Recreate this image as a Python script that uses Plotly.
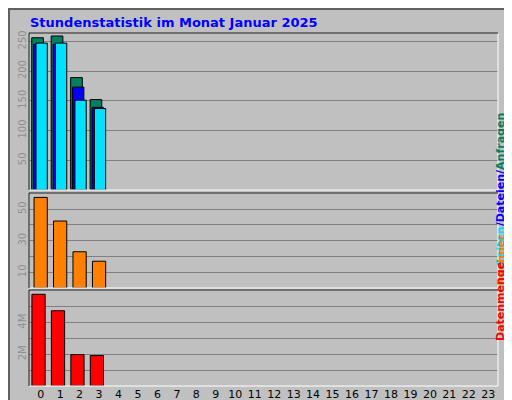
import plotly.graph_objects as go

hours = list(range(24))
anfragen = [256, 259, 189, 152]
dateien = [245, 245, 173, 139]
seiten = [247, 247, 151, 137]
rechner = [57.5, 42.5, 23, 17]
datenmenge = [5.79e6, 4.75e6, 1.98e6, 1.92e6]
x4 = hours[:4]

W, H = 512, 400
L, R, T, B = 21, 22, 25, 22
PW, PH = W - L - R, H - T - B
def px(x): return (x - L) / PW
def py(y): return (H - B - y) / PH

fig = go.Figure()
line = dict(color="black", width=1)
fig.add_bar(x=x4, y=anfragen, offset=-0.46, width=0.6, marker=dict(color="#008060", line=line), xaxis="x", yaxis="y")
fig.add_bar(x=x4, y=dateien, offset=-0.36, width=0.58, marker=dict(color="#0000ff", line=line), xaxis="x", yaxis="y")
fig.add_bar(x=x4, y=seiten, offset=-0.24, width=0.58, marker=dict(color="#00e0ff", line=line), xaxis="x", yaxis="y")
fig.add_bar(x=x4, y=rechner, offset=-0.34, width=0.68, marker=dict(color="#ff8000", line=line), xaxis="x2", yaxis="y2")
fig.add_bar(x=x4, y=datenmenge, offset=-0.45, width=0.68, marker=dict(color="#ff0000", line=line), xaxis="x3", yaxis="y3")

xcommon = dict(range=[-0.6, 23.5], tickmode="array", tickvals=hours, showgrid=False, zeroline=False, fixedrange=True, automargin=False)
ycommon = dict(tickangle=-90, tickfont=dict(family="DejaVu Sans", size=10, color="#909090"), gridcolor="#808080", gridwidth=1, zeroline=False, ticks="", ticklen=0, automargin=False)

fig.update_layout(
    width=W, height=H, margin=dict(l=L, r=R, t=T, b=B, autoexpand=False),
    paper_bgcolor="#c0c0c0", plot_bgcolor="#c0c0c0", barmode="overlay", showlegend=False,
    font=dict(family="DejaVu Sans", size=11, color="black"),
    xaxis=dict(**xcommon, anchor="y", showticklabels=False),
    xaxis2=dict(**xcommon, anchor="y2", showticklabels=False),
    xaxis3=dict(**xcommon, anchor="y3", showticklabels=True, tickfont=dict(size=11, color="black")),
    yaxis=dict(**ycommon, domain=[py(182), 1], range=[0, 264], tickvals=[50, 100, 150, 200, 250]),
    yaxis2=dict(**ycommon, domain=[py(280), py(185)], range=[0, 60.3], tickvals=[10, 20, 30, 40, 50, 60], ticktext=["10", "", "30", "", "50", ""]),
    yaxis3=dict(**ycommon, domain=[0, py(282)], range=[0, 6.06e6], tickvals=[1e6, 2e6, 3e6, 4e6, 5e6, 6e6], ticktext=["", "2M", "", "4M", "", ""]),
)

shapes = []
shapes.append(dict(type="rect", xref="paper", yref="paper", x0=px(1), x1=px(511), y0=py(399), y1=py(1), line=dict(color="#606060", width=2)))
for top, bot in [(25, 182), (185, 280), (282, 378)]:
    shapes.append(dict(type="rect", xref="paper", yref="paper", x0=px(21), x1=px(490), y0=py(bot), y1=py(top), line=dict(color="white", width=1)))
    shapes.append(dict(type="line", xref="paper", yref="paper", x0=px(21), x1=px(490), y0=py(top), y1=py(top), line=dict(color="black", width=1)))
    shapes.append(dict(type="line", xref="paper", yref="paper", x0=px(21), x1=px(21), y0=py(bot), y1=py(top), line=dict(color="black", width=1)))
fig.update_layout(shapes=shapes)

fig.add_annotation(text="<b>Stundenstatistik im Monat Januar 2025</b>", xref="paper", yref="paper", x=px(20), y=py(15), xanchor="left", yanchor="middle", showarrow=False, font=dict(color="#0000ff", size=13))
fig.add_annotation(text="<b><span style='color:#00e0ff'>Seiten</span>/<span style='color:#0000ff'>Dateien</span>/<span style='color:#008060'>Anfragen</span></b>", xref="paper", yref="paper", x=px(501), y=py(103), textangle=-90, showarrow=False, font=dict(color="#0000ff", size=11))
fig.add_annotation(text="<b>Rechner</b>", xref="paper", yref="paper", x=px(501), y=py(252), textangle=-90, showarrow=False, font=dict(color="#ff8000", size=11))
fig.add_annotation(text="<b>Datenmenge</b>", xref="paper", yref="paper", x=px(501), y=py(335), textangle=-90, showarrow=False, font=dict(color="#ff0000", size=11))

fig.write_html("out.html")
